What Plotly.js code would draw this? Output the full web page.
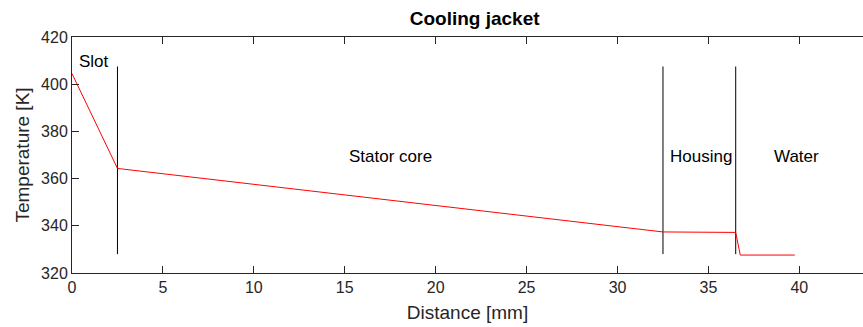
<!DOCTYPE html>
<html>
<head>
<meta charset="utf-8">
<script src="https://cdn.plot.ly/plotly-3.0.1.min.js"></script>
<style>html,body{margin:0;padding:0;background:#fff;}#chart{width:863px;height:327px;}</style>
</head>
<body>
<div id="chart"></div>
<script>
// Temperature profile (distance mm, temperature K)
const distance = [0, 2.5, 32.5, 36.5, 36.75, 39.75];
const temperature = [404.5, 364.3, 337.4, 337.2, 327.6, 327.6];

// Region boundaries (vertical separators)
const boundaries = [2.5, 32.5, 36.5];
const boundaryLow = 328;
const boundaryHigh = 407.5;

// Region labels
const regionNames = ["Slot", "Stator core", "Housing", "Water"];
const regionX = [0.28, 15.15, 32.75, 38.5];
const regionY = [409.5, 369.5, 369.5, 369.5];

const xTicks = [0, 5, 10, 15, 20, 25, 30, 35, 40];
const yTicks = [320, 340, 360, 380, 400, 420];

const bx = [], by = [];
boundaries.forEach(b => { bx.push(b, b, null); by.push(boundaryLow, boundaryHigh, null); });

const traces = [
  {x: bx, y: by, mode: 'lines', line: {color: '#000000', width: 1}, hoverinfo: 'skip', showlegend: false},
  {x: distance, y: temperature, mode: 'lines', line: {color: '#ff0000', width: 1}, showlegend: false}
];

const FONT = 'Liberation Sans, Arial, sans-serif';
const annotations = regionNames.map((t, i) => ({
  x: regionX[i], y: regionY[i], xref: 'x', yref: 'y', text: t, showarrow: false,
  xanchor: 'left', yanchor: 'middle', font: {family: FONT, size: 17, color: '#000000'}
}));

const tickFont = {family: FONT, size: 16, color: '#262626'};
const labelFont = {family: FONT, size: 19, color: '#262626'};

const layout = {
  width: 863, height: 327,
  margin: {l: 72, r: 0, t: 37, b: 54},
  paper_bgcolor: '#ffffff', plot_bgcolor: '#ffffff',
  title: {text: '<b>Cooling jacket</b>', x: 0.55, xref: 'container', xanchor: 'center', y: 1, yref: 'container', yanchor: 'top', pad: {t: 12},
          font: {family: FONT, size: 19, color: '#000000'}},
  xaxis: {range: [0, 43.5], tickvals: xTicks, ticktext: xTicks.map(String), ticks: 'inside', ticklen: 7, tickcolor: '#262626',
          showline: true, linecolor: '#262626', linewidth: 1, mirror: 'ticks', showgrid: false, zeroline: false,
          tickfont: tickFont, title: {text: 'Distance [mm]', font: labelFont, standoff: 10}},
  yaxis: {range: [320, 420], tickvals: yTicks, ticktext: yTicks.map(String), ticks: 'inside', ticklen: 7, tickcolor: '#262626',
          showline: true, linecolor: '#262626', linewidth: 1, showgrid: false, zeroline: false,
          tickfont: tickFont, title: {text: 'Temperature [K]', font: labelFont, standoff: 6}},
  annotations: annotations
};

Plotly.newPlot('chart', traces, layout, {displayModeBar: false, staticPlot: true});
</script>
</body>
</html>
